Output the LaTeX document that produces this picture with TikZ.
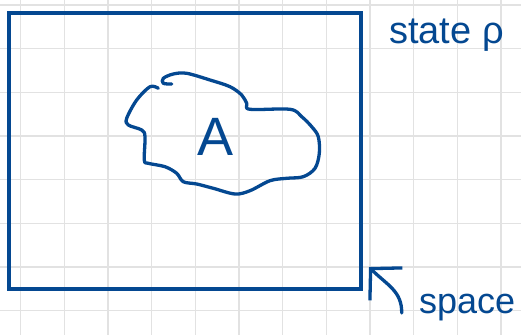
\documentclass[tikz,border=0pt]{standalone}
\usepackage{fontspec}
\setmainfont{Liberation Sans}
\usepackage{tikz}
\usetikzlibrary{arrows.meta, positioning, calc}
\definecolor{inkblue}{RGB}{4, 72, 145}
\definecolor{gridgray}{RGB}{226, 226, 226}
\tikzset{
  handline/.style={draw=inkblue, line width=3.3pt, line cap=round, line join=round},
  handtext/.style={text=inkblue, inner sep=0pt, anchor=base west}
}

\begin{document}
\begin{tikzpicture}[x=1pt, y=-1pt]
        \useasboundingbox (0,0) rectangle (521,335);
        \fill[white] (0,0) rectangle (521,335);
        % paper grid
        \foreach \k in {0,...,11}
            \draw[gridgray, line width=1.2pt] ({20.7+43.67*\k},0) -- ({20.7+43.67*\k},335);
        \foreach \k in {0,...,7}
            \draw[gridgray, line width=1.2pt] (0,{5+43.67*\k}) -- (521,{5+43.67*\k});
        % the space
        \node[draw=inkblue, line width=4pt, minimum width=351.4pt, minimum height=276pt,
              inner sep=0pt, outer sep=0pt] (box) at (185,150.7) {};
        % region A
        \draw[handline] plot[smooth, tension=0.55] coordinates {
            (158.3,88.3) (150,86.7) (136.7,100) (126.7,118.3) (128.3,125) (141.7,130)
            (145,136.7) (144.3,160) (148.3,163.3) (165,166.7) (176.7,173.3) (183.3,181.7)
            (196.7,184) (213.3,188.3) (235,194) (250,190.7) (270,180.7) (286.7,178.3)
            (303.3,176.7) (315,168.3) (319.3,153.3) (318.3,136.7) (311.7,126.7)
            (301.7,116.7) (290,109.3) (250,109.3) (246.7,103.3) (241.7,95) (230,86.7)
            (210,80) (186.7,73.3) (173.3,74) (163.3,78.3) (163.3,83.3) (171.7,84)};
        \node[text=inkblue, font=\fontsize{54}{60}\selectfont] (regA) at (216,137) {A};
        % labels
        \node[handtext, font=\fontsize{38}{42}\selectfont] (statelabel) at (389,43) {state ρ};
        \node[handtext, font=\fontsize{36}{40}\selectfont] (spacelabel) at (419,313) {space};
        \coordinate (tail) at (401.7,313);
        \coordinate (corner) at (369,267);
        \draw[handline, -{Straight Barb[length=22pt, width=46pt, line width=3.3pt]}]
            (tail) .. controls (402,291) and (387,285) .. (corner);
    \end{tikzpicture}
\end{document}
